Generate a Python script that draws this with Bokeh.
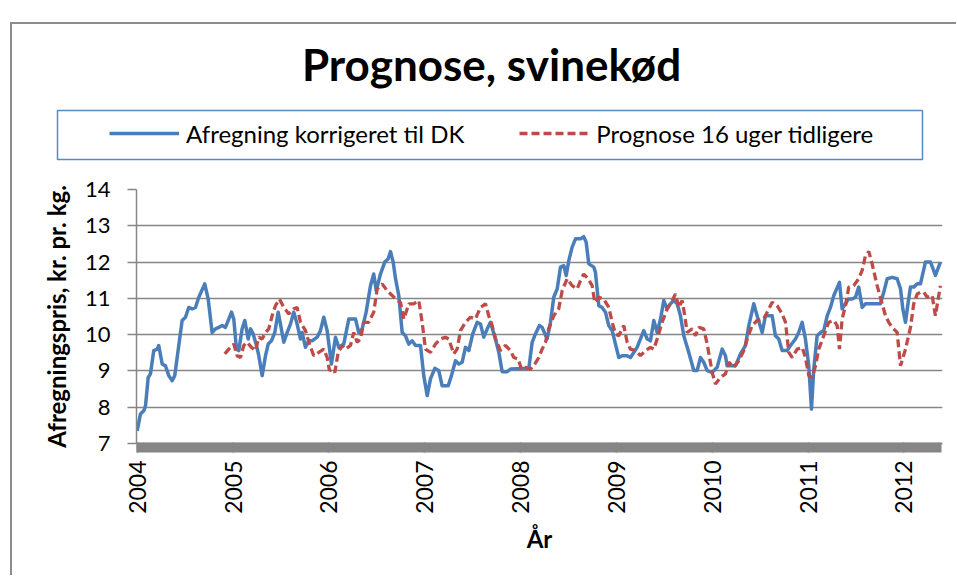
import numpy as np
from bokeh.plotting import figure
from bokeh.layouts import column
from bokeh.models import (Range1d, FixedTicker, Legend, LegendItem, Label, BoxAnnotation)
from bokeh.embed import file_html
from bokeh.resources import INLINE

title_text = "Prognose, svinekød"
y_title = "Afregningspris, kr. pr. kg."
x_title = "År"
series_names = ["Afregning korrigeret til DK", "Prognose 16 uger tidligere"]
year_ticks = [2004, 2005, 2006, 2007, 2008, 2009, 2010, 2011, 2012]
year_labels = ["2004", "2005", "2006", "2007", "2008", "2009", "2010", "2011", "2012"]
y_ticks = [7, 8, 9, 10, 11, 12, 13, 14]

# Afregning korrigeret til DK (decimal year, kr/kg)
afr_year = [2004.000, 2004.034, 2004.069, 2004.087, 2004.115, 2004.139, 2004.173, 2004.209, 2004.225, 2004.261,
            2004.295, 2004.330, 2004.365, 2004.392, 2004.434, 2004.469, 2004.504, 2004.538, 2004.574, 2004.608,
            2004.643, 2004.705, 2004.741, 2004.782, 2004.817, 2004.851, 2004.887, 2004.921, 2004.956, 2004.984,
            2005.008, 2005.036, 2005.060, 2005.095, 2005.123, 2005.158, 2005.182, 2005.210, 2005.245, 2005.269,
            2005.304, 2005.339, 2005.367, 2005.401, 2005.436, 2005.471, 2005.495, 2005.530, 2005.565, 2005.599,
            2005.634, 2005.669, 2005.704, 2005.721, 2005.756, 2005.790, 2005.826, 2005.878, 2005.912, 2005.947,
            2005.982, 2006.027, 2006.069, 2006.103, 2006.155, 2006.208, 2006.278, 2006.312, 2006.347, 2006.389,
            2006.434, 2006.468, 2006.494, 2006.538, 2006.583, 2006.619, 2006.643, 2006.671, 2006.695, 2006.729,
            2006.765, 2006.799, 2006.834, 2006.869, 2006.904, 2006.956, 2006.990, 2007.026, 2007.060, 2007.105,
            2007.147, 2007.182, 2007.245, 2007.279, 2007.321, 2007.355, 2007.391, 2007.425, 2007.460, 2007.501,
            2007.547, 2007.582, 2007.616, 2007.652, 2007.686, 2007.738, 2007.773, 2007.808, 2007.860, 2007.895,
            2008.033, 2008.086, 2008.121, 2008.155, 2008.197, 2008.225, 2008.277, 2008.312, 2008.346, 2008.382,
            2008.416, 2008.451, 2008.476, 2008.503, 2008.538, 2008.573, 2008.625, 2008.659, 2008.684, 2008.712,
            2008.764, 2008.781, 2008.816, 2008.851, 2008.886, 2008.920, 2008.956, 2008.990, 2009.025, 2009.060,
            2009.112, 2009.147, 2009.216, 2009.285, 2009.321, 2009.355, 2009.390, 2009.425, 2009.460, 2009.494,
            2009.529, 2009.564, 2009.598, 2009.634, 2009.668, 2009.703, 2009.755, 2009.807, 2009.842, 2009.877,
            2009.911, 2009.947, 2009.999, 2010.051, 2010.103, 2010.138, 2010.155, 2010.208, 2010.242, 2010.294,
            2010.346, 2010.381, 2010.433, 2010.468, 2010.521, 2010.555, 2010.625, 2010.659, 2010.694, 2010.729,
            2010.781, 2010.816, 2010.868, 2010.902, 2010.938, 2010.972, 2011.007, 2011.035, 2011.059, 2011.094,
            2011.129, 2011.163, 2011.199, 2011.233, 2011.268, 2011.327, 2011.355, 2011.390, 2011.418, 2011.459,
            2011.494, 2011.528, 2011.564, 2011.598, 2011.755, 2011.789, 2011.825, 2011.877, 2011.929, 2011.964,
            2011.988, 2012.016, 2012.044, 2012.068, 2012.102, 2012.138, 2012.172, 2012.224, 2012.276, 2012.304,
            2012.328, 2012.380]
afr_value = [7.35, 7.81, 7.90, 8.04, 8.82, 8.92, 9.56, 9.60, 9.70, 9.19,
             9.14, 8.87, 8.73, 8.87, 9.70, 10.39, 10.48, 10.75, 10.71, 10.75,
             11.03, 11.40, 10.98, 10.06, 10.16, 10.20, 10.25, 10.20, 10.43, 10.62,
             10.43, 9.60, 9.56, 10.16, 10.39, 9.88, 10.16, 10.02, 9.70, 9.42,
             8.87, 9.42, 9.74, 9.83, 10.06, 10.62, 10.29, 9.79, 10.06, 10.29,
             10.62, 10.29, 9.88, 10.06, 9.65, 9.83, 9.83, 9.93, 10.11, 10.48,
             10.11, 9.19, 9.93, 9.65, 9.74, 10.43, 10.43, 10.06, 10.16, 10.62,
             11.35, 11.67, 11.21, 11.67, 12.00, 12.09, 12.29, 12.00, 11.55, 11.08,
             10.06, 9.97, 9.74, 9.83, 9.70, 9.70, 8.87, 8.32, 8.78, 9.07,
             9.01, 8.59, 8.59, 8.87, 9.28, 9.19, 9.24, 9.65, 9.56, 10.02,
             10.34, 10.29, 9.93, 10.16, 10.34, 9.88, 9.51, 8.98, 8.98, 9.05,
             9.07, 9.07, 9.79, 10.02, 10.25, 10.20, 9.88, 10.34, 11.03, 11.26,
             11.86, 11.90, 11.63, 12.04, 12.41, 12.64, 12.64, 12.70, 12.55, 11.95,
             11.86, 11.72, 10.80, 10.75, 10.62, 10.25, 10.11, 9.74, 9.37, 9.42,
             9.42, 9.37, 9.65, 10.11, 9.88, 9.83, 10.39, 10.06, 10.43, 10.94,
             10.71, 10.85, 10.94, 10.85, 10.52, 9.97, 9.51, 9.01, 9.01, 9.37,
             9.24, 9.01, 8.96, 9.10, 9.60, 9.42, 9.14, 9.14, 9.14, 9.47,
             9.70, 10.25, 10.85, 10.52, 10.06, 10.52, 10.52, 9.97, 9.88, 9.56,
             9.56, 9.70, 9.88, 10.06, 10.34, 9.88, 9.14, 7.95, 9.05, 9.97,
             10.06, 10.11, 10.52, 10.75, 11.08, 11.44, 10.71, 10.85, 10.98, 10.98,
             11.03, 11.31, 10.75, 10.85, 10.85, 11.17, 11.54, 11.58, 11.54, 11.26,
             10.71, 10.34, 10.89, 11.31, 11.31, 11.40, 11.40, 12.00, 12.00, 11.81,
             11.63, 12.00]

# Prognose 16 uger tidligere (decimal year, kr/kg)
prog_year = [2004.914, 2004.956, 2005.008, 2005.043, 2005.078, 2005.112, 2005.148, 2005.192, 2005.234, 2005.269,
             2005.304, 2005.339, 2005.373, 2005.408, 2005.443, 2005.485, 2005.530, 2005.582, 2005.634, 2005.669,
             2005.704, 2005.756, 2005.798, 2005.842, 2005.895, 2005.947, 2005.982, 2006.006, 2006.034, 2006.062,
             2006.097, 2006.139, 2006.173, 2006.225, 2006.260, 2006.295, 2006.330, 2006.364, 2006.416, 2006.468,
             2006.504, 2006.556, 2006.608, 2006.660, 2006.695, 2006.747, 2006.782, 2006.834, 2006.886, 2006.938,
             2006.973, 2007.008, 2007.060, 2007.112, 2007.164, 2007.216, 2007.251, 2007.303, 2007.338, 2007.373,
             2007.425, 2007.477, 2007.529, 2007.582, 2007.634, 2007.668, 2007.704, 2007.738, 2007.790, 2007.842,
             2007.895, 2007.929, 2007.975, 2008.009, 2008.051, 2008.103, 2008.148, 2008.190, 2008.225, 2008.260,
             2008.294, 2008.346, 2008.398, 2008.434, 2008.486, 2008.538, 2008.590, 2008.625, 2008.659, 2008.705,
             2008.747, 2008.774, 2008.816, 2008.868, 2008.920, 2008.956, 2008.990, 2009.025, 2009.077, 2009.112,
             2009.147, 2009.199, 2009.251, 2009.303, 2009.355, 2009.390, 2009.425, 2009.477, 2009.529, 2009.582,
             2009.616, 2009.651, 2009.686, 2009.713, 2009.738, 2009.790, 2009.825, 2009.860, 2009.911, 2009.947,
             2009.999, 2010.033, 2010.086, 2010.138, 2010.172, 2010.224, 2010.276, 2010.329, 2010.364, 2010.416,
             2010.468, 2010.537, 2010.573, 2010.625, 2010.677, 2010.729, 2010.764, 2010.798, 2010.834, 2010.886,
             2010.938, 2010.972, 2011.007, 2011.042, 2011.077, 2011.111, 2011.163, 2011.215, 2011.268, 2011.303,
             2011.327, 2011.355, 2011.390, 2011.424, 2011.476, 2011.528, 2011.564, 2011.598, 2011.633, 2011.668,
             2011.720, 2011.773, 2011.807, 2011.841, 2011.877, 2011.929, 2011.964, 2012.016, 2012.068, 2012.102,
             2012.138, 2012.172, 2012.207, 2012.242, 2012.294, 2012.328, 2012.380]
prog_value = [9.47, 9.60, 9.74, 9.42, 9.37, 9.70, 9.79, 9.65, 9.56, 9.93,
              9.88, 10.06, 10.16, 10.52, 10.80, 10.98, 10.75, 10.57, 10.71, 10.75,
              10.34, 10.11, 9.74, 9.42, 9.51, 9.60, 9.37, 9.01, 9.05, 8.96,
              9.51, 9.70, 9.60, 9.70, 10.06, 9.79, 9.88, 10.34, 10.34, 10.62,
              11.26, 11.40, 11.21, 11.08, 10.98, 10.89, 10.43, 10.85, 10.85, 10.94,
              10.34, 9.60, 9.51, 9.74, 9.88, 9.93, 9.88, 9.47, 9.60, 10.11,
              10.34, 10.48, 10.43, 10.75, 10.85, 10.52, 10.25, 9.88, 9.56, 9.70,
              9.56, 9.37, 9.33, 9.05, 9.10, 9.05, 9.19, 9.37, 9.60, 9.79,
              10.16, 10.52, 10.71, 11.21, 11.54, 11.35, 11.26, 11.49, 11.67, 11.54,
              11.35, 10.89, 11.03, 10.98, 10.75, 10.34, 10.02, 9.97, 10.25, 9.79,
              9.60, 9.56, 9.42, 9.56, 9.65, 9.60, 9.88, 10.34, 10.71, 10.94,
              11.12, 10.75, 10.94, 10.52, 10.06, 10.16, 9.97, 10.20, 10.16, 9.74,
              8.96, 8.64, 8.82, 8.92, 9.24, 9.10, 9.28, 9.56, 9.88, 10.25,
              10.39, 10.43, 10.62, 10.89, 10.80, 10.57, 10.34, 9.51, 9.37, 9.60,
              9.65, 9.37, 8.87, 8.82, 9.14, 9.60, 9.97, 10.34, 10.39, 10.25,
              9.60, 10.43, 10.80, 11.31, 11.35, 11.54, 11.77, 12.18, 12.29, 11.95,
              11.35, 10.85, 10.52, 10.34, 10.20, 10.06, 9.14, 9.60, 10.20, 10.85,
              11.12, 11.17, 11.17, 11.03, 11.08, 10.52, 11.35]

GRAY = "#868686"
BLUE = "#4a7ebb"
RED = "#be4b48"
FONT = "Lato"

# ---------- header figure: title + legend ----------
ph = figure(width=944, height=150, output_backend="svg", toolbar_location=None,
            x_range=Range1d(0, 1), y_range=Range1d(0, 1),
            x_axis_location=None, y_axis_location=None, min_border=0)
ph.frame_align = False
ph.grid.visible = False
ph.outline_line_color = None
ph.background_fill_color = "white"
ph.border_fill_color = "white"

ph.add_layout(Label(x=479, y=111, x_units="screen", y_units="screen", text=title_text,
                    text_align="center", text_baseline="alphabetic", text_font=FONT,
                    text_font_style="bold", text_font_size="44px", text_color="black"))

ph.add_layout(BoxAnnotation(left=45, right=910, top=64, bottom=15,
                            left_units="screen", right_units="screen",
                            top_units="screen", bottom_units="screen",
                            fill_alpha=0, line_color="#5a88c4", line_alpha=1.0, line_width=1.5))

# legend-only renderers (no visible data)
lb = ph.line(x=np.array([np.nan]), y=np.array([np.nan]), line_color=BLUE, line_width=3.5)
lr = ph.line(x=np.array([np.nan]), y=np.array([np.nan]), line_color=RED, line_width=3.3, line_dash="8 4")
legend = Legend(items=[LegendItem(label=series_names[0], renderers=[lb]),
                       LegendItem(label=series_names[1], renderers=[lr])],
                orientation="horizontal", location=(97, 26),
                padding=0, margin=0, spacing=55, label_standoff=7,
                glyph_width=70, glyph_height=30, label_height=30,
                border_line_color=None, background_fill_alpha=0,
                label_text_font=FONT, label_text_font_size="24px", label_text_color="black")
ph.add_layout(legend)

# ---------- chart figure ----------
p = figure(width=944, height=401, output_backend="svg", toolbar_location=None,
           x_range=Range1d(2003.993, 2012.402), y_range=Range1d(7, 14),
           min_border_left=124, min_border_right=14, min_border_top=15, min_border_bottom=132)
p.frame_align = False
p.background_fill_color = "white"
p.border_fill_color = "white"
p.outline_line_color = None

r1 = p.line(afr_year, afr_value, line_color=BLUE, line_width=3.5, line_join="round")
r2 = p.line(prog_year, prog_value, line_color=RED, line_width=3.3, line_dash="8 4")

week_ticks = [2004 + i / 52.0 for i in range(0, 437)]
p.xaxis.ticker = FixedTicker(ticks=year_ticks, minor_ticks=week_ticks)
p.xaxis.major_label_overrides = {t: l for t, l in zip(year_ticks, year_labels)}
p.xaxis.major_label_orientation = 1.5707963
p.xaxis.major_label_text_font = FONT
p.xaxis.major_label_text_font_size = "23px"
p.xaxis.major_label_text_color = "black"
p.xaxis.major_label_standoff = 8
p.xaxis.major_tick_in = 1
p.xaxis.major_tick_out = 9
p.xaxis.minor_tick_in = 1
p.xaxis.minor_tick_out = 9
p.xaxis.major_tick_line_color = GRAY
p.xaxis.minor_tick_line_color = GRAY
p.xaxis.major_tick_line_width = 2
p.xaxis.minor_tick_line_width = 2
p.xaxis.axis_line_color = GRAY
p.xaxis.axis_line_width = 1.5
p.xaxis.axis_label = x_title
p.xaxis.axis_label_text_font = FONT
p.xaxis.axis_label_text_font_style = "bold"
p.xaxis.axis_label_text_font_size = "24px"
p.xaxis.axis_label_text_color = "black"
p.xaxis.axis_label_standoff = 7
p.xgrid.grid_line_color = None

p.yaxis.ticker = FixedTicker(ticks=y_ticks)
p.yaxis.major_label_text_font = FONT
p.yaxis.major_label_text_font_size = "22px"
p.yaxis.major_label_text_color = "black"
p.yaxis.major_label_standoff = 17
p.yaxis.major_tick_in = 0
p.yaxis.major_tick_out = 9
p.yaxis.minor_tick_line_color = None
p.yaxis.major_tick_line_color = GRAY
p.yaxis.major_tick_line_width = 1.5
p.yaxis.axis_line_color = GRAY
p.yaxis.axis_line_width = 1.5
p.yaxis.axis_label = y_title
p.yaxis.axis_label_text_font = FONT
p.yaxis.axis_label_text_font_style = "bold"
p.yaxis.axis_label_text_font_size = "24px"
p.yaxis.axis_label_text_color = "black"
p.yaxis.axis_label_standoff = 11
p.ygrid.grid_line_color = GRAY
p.ygrid.grid_line_width = 1.5

layout = column(ph, p, spacing=0, margin=(22, 0, 0, 10),
                styles={"border-left": "2px solid #8c8c8c", "border-top": "2px solid #8c8c8c",
                        "background-color": "white"})

open("out.html", "w").write(file_html(layout, INLINE))
